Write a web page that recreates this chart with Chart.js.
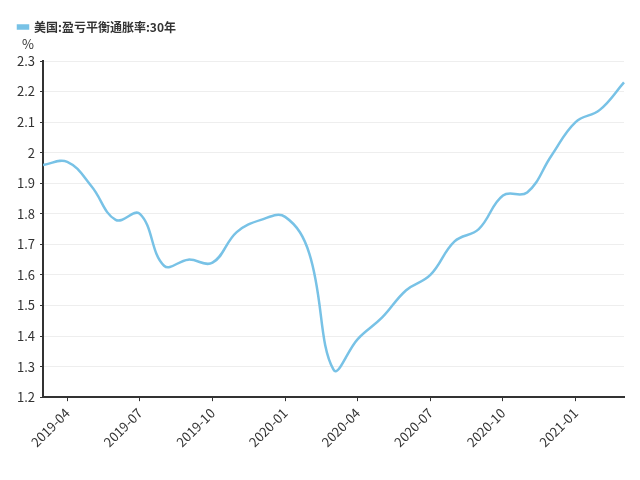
<!DOCTYPE html>
<html lang="zh">
<head>
    <meta charset="UTF-8">
    <title>美国:盈亏平衡通胀率:30年</title>
    <script src="https://cdn.jsdelivr.net/npm/chart.js"></script>
    <style>
        html, body { margin: 0; padding: 0; background: #fff; }
        #wrap { width: 640px; height: 480px; }
    </style>
</head>
<body>
    <div id="wrap"><canvas id="breakevenChart"></canvas></div>
    <script>
        // monthly readings, 2019-03 .. 2021-03
        const months = [
            '2019-03', '2019-04', '2019-05', '2019-06', '2019-07', '2019-08', '2019-09',
            '2019-10', '2019-11', '2019-12', '2020-01', '2020-02', '2020-03', '2020-04',
            '2020-05', '2020-06', '2020-07', '2020-08', '2020-09', '2020-10', '2020-11',
            '2020-12', '2021-01', '2021-02', '2021-03'
        ];
        const breakeven30y = [
            1.96, 1.97, 1.89, 1.78, 1.80, 1.63, 1.65,
            1.64, 1.74, 1.78, 1.79, 1.67, 1.29, 1.39,
            1.46, 1.55, 1.60, 1.71, 1.75, 1.86, 1.87,
            1.99, 2.10, 2.14, 2.23
        ];
        const tickMonths = ['01', '04', '07', '10'];
        const seriesName = '美国:盈亏平衡通胀率:30年';

        const lineColor = '#78c2e6';
        const axisColor = '#333333';

        // extra room under the legend
        const legendGap = {
            id: 'legendGap',
            beforeInit(chart) {
                const fit = chart.legend.fit;
                chart.legend.fit = function () {
                    fit.bind(chart.legend)();
                    this.height += 18;
                };
            }
        };

        // "%" unit above the y axis
        const unitLabel = {
            id: 'unitLabel',
            afterDraw(chart) {
                const { ctx, chartArea } = chart;
                ctx.save();
                ctx.font = '13px "Noto Sans CJK SC", "Noto Sans", sans-serif';
                ctx.fillStyle = axisColor;
                ctx.textAlign = 'center';
                ctx.textBaseline = 'middle';
                ctx.fillText('%', chartArea.left - 15, chartArea.top - 17);
                ctx.restore();
            }
        };

        const ctx = document.getElementById('breakevenChart').getContext('2d');
        const myChart = new Chart(ctx, {
            type: 'line',
            data: {
                labels: months,
                datasets: [{
                    label: seriesName,
                    data: breakeven30y,
                    borderColor: lineColor,
                    backgroundColor: lineColor,
                    borderWidth: 2.5,
                    pointRadius: 0,
                    tension: 0.4,
                    fill: false
                }]
            },
            options: {
                responsive: true,
                maintainAspectRatio: false,
                animation: false,
                layout: {
                    padding: { left: 8, right: 16, top: 11, bottom: 26 }
                },
                plugins: {
                    legend: {
                        position: 'top',
                        align: 'start',
                        labels: {
                            boxWidth: 10,
                            boxHeight: 3,
                            padding: 10,
                            color: axisColor,
                            font: { family: '"Noto Sans CJK SC", sans-serif', size: 12, weight: 'bold' }
                        }
                    },
                    tooltip: { enabled: false }
                },
                scales: {
                    x: {
                        type: 'category',
                        offset: false,
                        afterBuildTicks(scale) {
                            scale.ticks = scale.ticks.filter(t => tickMonths.includes(months[t.value].slice(5)));
                        },
                        ticks: {
                            autoSkip: false,
                            maxRotation: 45,
                            minRotation: 45,
                            padding: 4,
                            color: axisColor,
                            font: { family: '"Noto Sans CJK SC", sans-serif', size: 13 }
                        },
                        grid: {
                            drawOnChartArea: false,
                            drawTicks: true,
                            tickLength: 4,
                            tickColor: axisColor
                        },
                        border: { color: axisColor, width: 2 }
                    },
                    y: {
                        min: 1.2,
                        max: 2.3,
                        afterFit(scale) {
                            scale.width += 4;
                        },
                        ticks: {
                            stepSize: 0.1,
                            padding: 5,
                            color: axisColor,
                            font: { family: '"Noto Sans CJK SC", sans-serif', size: 13 },
                            callback: v => String(+v.toFixed(1))
                        },
                        grid: {
                            color: '#eeeeee',
                            tickLength: 3,
                            tickColor: axisColor
                        },
                        border: { color: axisColor, width: 2 }
                    }
                }
            },
            plugins: [legendGap, unitLabel]
        });
    </script>
</body>
</html>
